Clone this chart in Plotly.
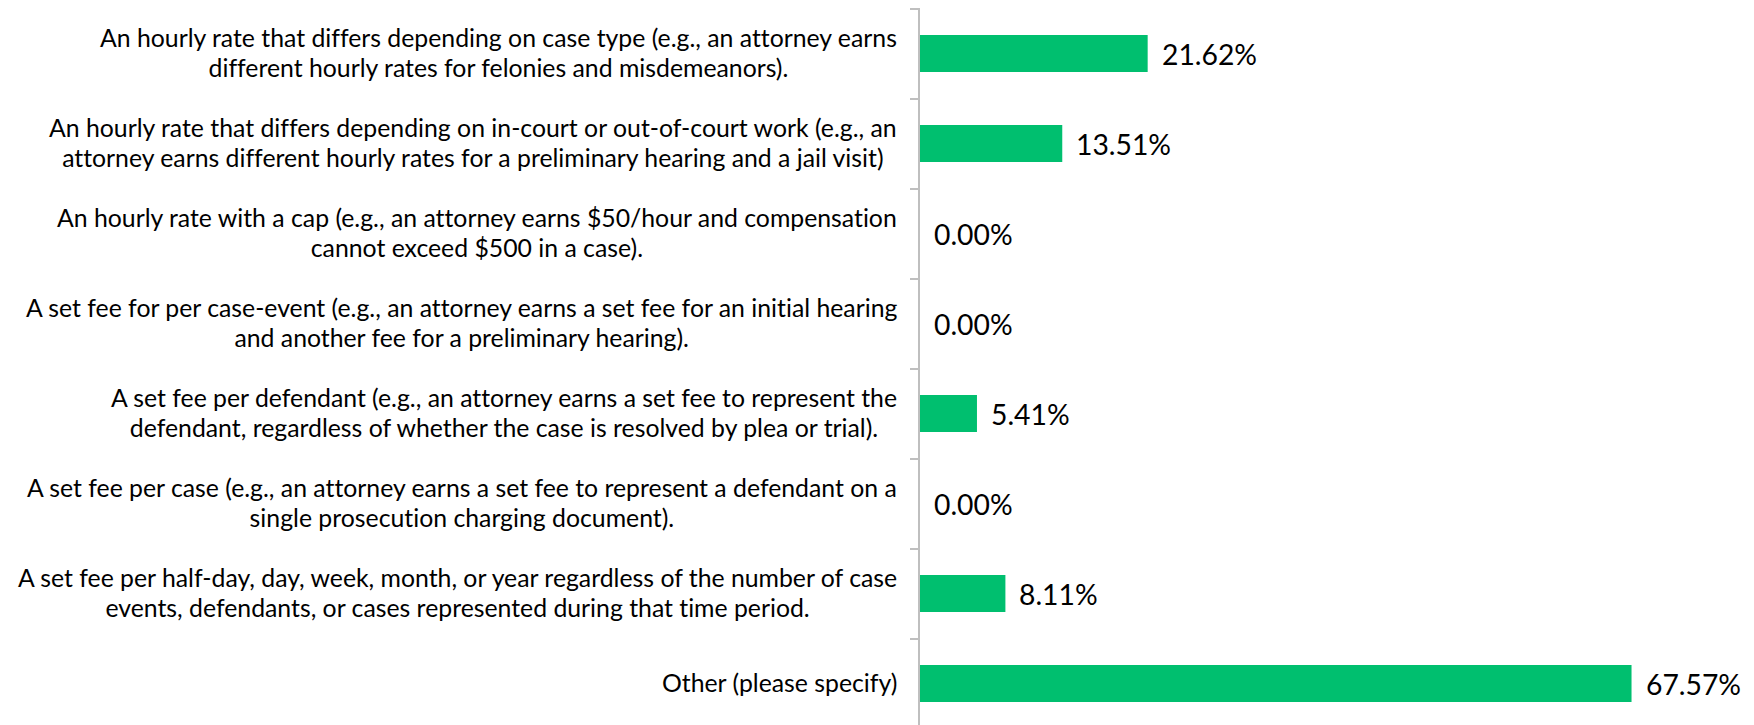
import plotly.graph_objects as go

categories = [
    "An hourly rate that differs depending on case type (e.g., an attorney earns<br>different hourly rates for felonies and misdemeanors).",
    "An hourly rate that differs depending on in-court or out-of-court work (e.g., an<br>attorney earns different hourly rates for a preliminary hearing and a jail visit)",
    "An hourly rate with a cap (e.g., an attorney earns $50/hour and compensation<br>cannot exceed $500 in a case).",
    "A set fee for per case-event (e.g., an attorney earns a set fee for an initial hearing<br>and another fee for a preliminary hearing).",
    "A set fee per defendant (e.g., an attorney earns a set fee to represent the<br>defendant, regardless of whether the case is resolved by plea or trial).",
    "A set fee per case (e.g., an attorney earns a set fee to represent a defendant on a<br>single prosecution charging document).",
    "A set fee per half-day, day, week, month, or year regardless of the number of case<br>events, defendants, or cases represented during that time period.",
    "Other (please specify)",
]
values = [21.62, 13.51, 0.00, 0.00, 5.41, 0.00, 8.11, 67.57]
value_labels = ["21.62%", "13.51%", "0.00%", "0.00%", "5.41%", "0.00%", "8.11%", "67.57%"]

BAR_COLOR = "#00BF6F"
FONT = "Lato"
AXIS_COLOR = "#BFBFBF"


def styled(label, size):
    # each line in its own span so glyph size differs from the line-spacing base size
    return "<br>".join(
        f'<span style="font-size:{size}px;font-variant-ligatures:none">{part}</span>'
        for part in label.split("<br>")
    )


fig = go.Figure(
    go.Bar(
        x=values,
        y=categories,
        orientation="h",
        marker=dict(color=BAR_COLOR, line=dict(width=0)),
        hoverinfo="skip",
    )
)

annotations = []
for cat, val, lab in zip(categories, values, value_labels):
    annotations.append(dict(
        x=val, y=cat, xref="x", yref="y", text=lab, showarrow=False,
        xanchor="left", yanchor="middle", xshift=12,
        font=dict(family=FONT, size=28.3, color="#000000"),
    ))
    annotations.append(dict(
        x=0, y=cat, xref="paper", yref="y", text=styled(cat, 24.8), showarrow=False,
        xanchor="right", yanchor="middle", align="center", xshift=-21, yshift=1,
        font=dict(family=FONT, size=23, color="#000000"),
    ))

# page body adds an 8px offset, so the figure is drawn 8px smaller
fig.update_layout(
    width=1746, height=717,
    margin=dict(l=912, r=0, t=0, b=0, pad=0),
    plot_bgcolor="white", paper_bgcolor="white",
    bargap=0.59,
    showlegend=False,
    annotations=annotations,
    xaxis=dict(range=[0, 79.2], visible=False, fixedrange=True),
    yaxis=dict(
        type="category",
        range=[7.461, -0.506],
        showticklabels=False,
        showline=True, linecolor=AXIS_COLOR, linewidth=1.5,
        ticks="outside", tickson="boundaries", ticklen=8, tickcolor=AXIS_COLOR, tickwidth=1.5,
        showgrid=False, zeroline=False,
    ),
)

fig.write_html("out.html")
